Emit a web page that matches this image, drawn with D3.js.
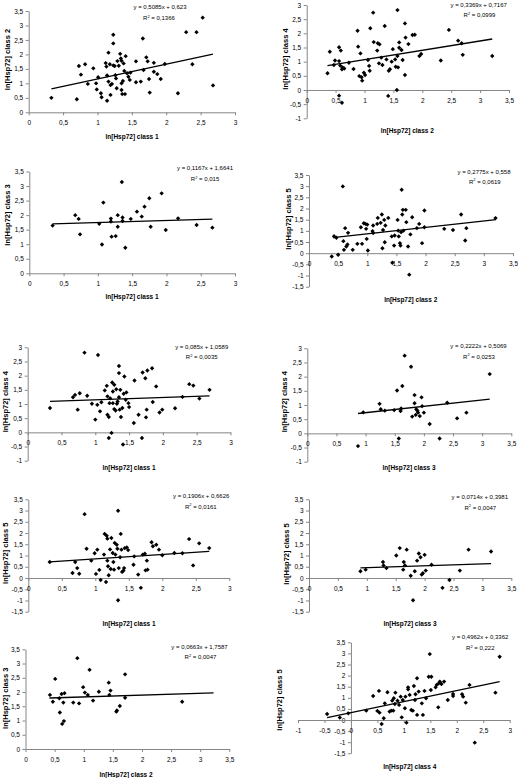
<!DOCTYPE html>
<html><head><meta charset="utf-8">
<script src="https://cdn.jsdelivr.net/npm/d3@7"></script>
<style>body{margin:0;background:#fff}svg{display:block}</style>
</head><body>
<svg id="c" width="518" height="778"></svg>
<script>
// ---- data ----
const p1x=[0.33,0.70,0.73,0.76,0.82,0.86,0.94,0.98,0.99,1.01,1.05,1.06,1.14,1.12,1.13,1.14,1.16,1.16,1.18,1.19,1.19,1.21,1.23,1.23,1.23,1.25,1.26,1.27,1.28,1.29,1.31,1.33,1.34,1.35,1.35,1.35,1.36,1.37,1.38,1.39,1.40,1.41,1.43,1.45,1.47,1.48,1.56,1.56,1.63,1.66,1.67,1.71,1.73,1.75,1.76,1.82,1.82,1.87,1.92,1.98,2.17,2.29,2.38,2.44,2.53,2.68];
const p1y=[0.50,0.45,1.60,1.30,1.66,0.98,1.52,1.00,0.79,1.21,0.66,0.52,0.40,1.70,1.58,1.27,1.06,2.06,1.66,0.60,0.94,0.98,1.62,2.38,2.68,1.60,1.28,1.17,0.83,1.77,1.61,2.02,1.86,1.78,1.00,0.77,0.63,1.08,1.69,1.43,0.63,1.94,1.35,1.23,1.12,1.37,1.76,1.04,1.06,2.55,1.46,1.90,1.76,1.15,0.68,1.71,1.40,1.32,1.15,1.67,0.66,2.77,1.66,2.77,3.27,0.93];

const p2x=[0.36,0.40,0.47,0.49,0.56,0.56,0.58,0.59,0.61,0.62,0.65,0.56,0.61,0.73,0.81,0.88,0.89,0.91,0.93,0.95,0.96,0.99,1.01,1.06,1.08,1.09,1.10,1.15,1.16,1.22,1.23,1.25,1.26,1.29,1.31,1.35,1.38,1.41,1.42,1.44,1.47,1.49,1.53,1.54,1.56,1.57,1.58,1.57,1.60,1.60,1.64,1.66,1.70,1.70,1.71,1.76,1.83,1.87,1.95,1.98,2.46,2.62,2.68,2.70,2.32,3.21];
const p2y=[0.59,1.35,0.88,1.04,1.51,1.02,0.86,1.39,0.73,0.80,0.76,-0.20,-0.45,0.96,0.74,2.09,1.53,0.49,1.29,0.45,0.33,0.61,0.53,1.06,0.85,0.68,2.18,2.73,1.69,1.39,1.65,0.94,1.61,1.14,0.88,2.26,1.08,-0.21,0.68,0.73,1.00,1.44,1.08,0.82,0.00,1.20,0.80,2.82,1.68,1.49,1.41,1.06,0.53,2.35,1.85,1.62,1.94,1.95,1.20,1.27,2.12,1.74,1.65,1.24,1.04,1.20];

const p3x=[0.34,0.67,0.72,0.74,1.02,1.06,1.08,1.19,1.19,1.20,1.26,1.29,1.29,1.35,1.36,1.36,1.40,1.48,1.57,1.64,1.68,1.75,1.77,1.93,1.99,2.17,2.44,2.67];
const p3y=[1.64,2.00,1.87,1.34,1.70,0.99,2.43,1.88,1.78,1.26,1.28,2.00,1.60,3.14,1.92,1.80,0.88,1.87,2.12,1.95,2.29,2.58,1.60,2.75,1.49,1.89,1.66,1.57];

const p4x=[0.39,0.43,0.47,0.50,0.58,0.59,0.60,0.62,0.64,0.66,0.67,0.75,0.83,0.89,0.91,0.94,0.97,0.98,1.00,0.99,1.01,1.09,1.10,1.10,1.17,1.18,1.23,1.25,1.26,1.27,1.29,1.30,1.31,1.36,1.42,1.43,1.46,1.47,1.52,1.53,1.54,1.56,1.57,1.58,1.59,1.60,1.61,1.62,1.66,1.67,1.70,1.72,1.74,1.77,1.85,1.89,1.94,1.98,1.98,2.32,2.47,2.61,2.68,2.70,3.20];
const p4y=[-0.15,0.76,0.69,-0.07,2.99,0.54,0.15,1.12,0.30,0.39,0.91,0.15,0.42,1.16,0.42,1.34,1.31,1.09,1.28,0.64,0.12,0.99,0.90,1.24,1.31,1.58,1.36,1.73,0.22,1.04,1.49,0.49,1.24,1.58,0.75,-0.43,0.34,0.79,1.49,1.01,0.75,0.45,0.34,0.94,2.84,1.73,1.94,1.01,1.94,1.39,0.30,-0.96,0.84,1.61,1.12,1.31,0.45,1.91,1.16,1.09,1.04,1.73,0.57,1.12,1.57];

const p5x=[0.33,0.67,0.70,0.74,0.77,0.84,0.88,0.95,1.00,1.03,1.04,1.07,1.09,1.14,1.17,1.18,1.18,1.20,1.20,1.21,1.22,1.24,1.25,1.26,1.26,1.28,1.28,1.30,1.31,1.32,1.33,1.35,1.35,1.35,1.36,1.37,1.38,1.40,1.41,1.42,1.43,1.45,1.46,1.49,1.50,1.57,1.58,1.64,1.69,1.70,1.74,1.75,1.77,1.76,1.84,1.85,1.90,1.95,1.99,2.18,2.29,2.39,2.45,2.54,2.69];
const p5y=[0.86,1.24,1.32,0.80,1.38,2.81,1.29,1.01,0.45,0.97,2.73,0.74,1.06,1.48,1.64,0.62,1.27,0.54,-0.20,1.03,1.20,-0.02,1.76,1.44,1.03,0.82,1.68,0.77,1.52,1.01,1.09,1.24,2.09,2.34,0.80,1.50,0.54,0.86,-0.43,1.36,1.97,1.15,1.41,1.03,0.89,0.33,1.83,0.62,-0.20,2.11,1.91,0.53,2.18,0.80,2.26,1.07,1.62,0.70,0.80,0.85,1.25,1.70,1.65,1.19,1.50];

const p6x=[0.87,0.96,1.24,1.26,1.33,1.49,1.54,1.57,1.60,1.61,1.63,1.67,1.78,1.80,1.84,1.84,1.86,1.87,1.89,1.90,1.93,1.96,1.97,2.00,2.10,2.27,2.40,2.57,2.73,3.13];
const p6y=[-0.45,0.74,1.04,0.85,0.80,0.82,1.51,-0.18,0.79,0.88,1.67,2.74,2.35,0.59,1.35,1.06,0.65,0.85,0.80,0.73,0.61,1.27,0.96,0.73,0.33,-0.18,1.08,0.53,0.73,2.09];

const p7x=[0.32,0.66,0.70,0.73,0.76,0.84,0.87,0.94,0.99,1.01,1.03,1.06,1.08,1.13,1.14,1.16,1.17,1.18,1.18,1.19,1.20,1.22,1.23,1.24,1.26,1.27,1.28,1.29,1.30,1.32,1.33,1.34,1.34,1.35,1.37,1.38,1.39,1.40,1.42,1.43,1.44,1.47,1.49,1.57,1.58,1.64,1.68,1.71,1.74,1.75,1.77,1.78,1.84,1.86,1.91,1.95,2.00,2.18,2.30,2.40,2.46,2.55,2.70];
const p7y=[0.71,0.22,0.71,0.44,0.19,2.84,1.30,0.77,1.10,0.18,1.26,0.36,-0.09,1.04,1.96,-0.18,1.88,1.75,0.77,0.52,0.12,1.27,0.40,1.78,1.11,0.71,0.37,1.56,1.04,1.48,1.30,2.99,-0.99,0.44,0.92,1.96,1.26,0.27,0.33,0.44,1.33,1.36,1.24,0.59,0.96,0.15,-0.44,1.04,1.08,0.34,0.77,0.37,1.59,1.41,1.48,1.26,1.01,1.11,1.10,1.73,0.56,1.54,1.33];

const p8x=[0.89,0.98,1.28,1.29,1.34,1.51,1.57,1.63,1.64,1.66,1.69,1.76,1.80,1.83,1.87,1.90,1.93,1.95,1.97,2.00,2.02,2.12,2.31,2.43,2.61,2.76,3.15];
const p8y=[0.30,0.37,0.71,0.56,0.44,1.00,1.33,0.37,0.71,0.56,1.26,0.10,-0.99,0.30,0.77,1.09,0.92,0.15,0.21,1.03,0.33,0.59,-0.44,-0.09,0.33,1.26,1.18];

const p9x=[0.42,0.47,0.51,0.58,0.59,0.62,0.63,0.65,0.66,0.67,0.82,0.89,0.92,0.99,1.02,1.07,1.10,1.16,1.26,1.43,1.44,1.46,1.56,1.57,1.62,1.71,1.71,2.69];
const p9y=[1.90,1.66,2.46,1.78,1.28,1.93,0.88,1.63,0.98,1.96,1.63,3.19,1.60,2.17,1.98,1.90,2.78,1.70,2.01,2.33,1.90,2.05,1.31,1.35,1.51,2.62,1.80,1.66];

const p10x=[-0.45,-0.21,-0.05,0.29,0.42,0.50,0.53,0.54,0.58,0.62,0.64,0.69,0.73,0.76,0.78,0.80,0.81,0.83,0.84,0.88,0.91,0.94,0.96,0.98,1.02,1.03,1.05,1.08,1.08,1.11,1.14,1.17,1.19,1.21,1.22,1.25,1.25,1.28,1.34,1.36,1.39,1.42,1.47,1.49,1.51,1.52,1.60,1.62,1.65,1.66,1.68,1.71,1.76,1.83,1.93,1.93,2.10,2.12,2.17,2.24,2.34,2.73,2.81];
const p10y=[0.27,0.11,0.30,0.42,1.08,0.41,1.31,0.33,-0.18,0.08,0.75,1.25,0.38,0.42,0.87,0.42,0.98,0.72,1.23,0.87,0.68,1.05,0.12,0.90,0.53,1.05,-0.12,1.47,1.38,1.13,0.45,0.42,1.53,0.90,1.16,0.23,1.88,1.28,0.75,0.23,1.31,0.98,1.95,2.97,1.35,1.95,1.47,1.58,0.57,1.65,1.73,1.62,1.73,0.90,1.17,1.08,1.16,1.05,0.78,1.58,-1.02,1.23,2.85];

// trendline end points [x1,y1,x2,y2]
const trends=[[0.33,0.81,2.68,2.01],[0.36,0.86,3.21,1.80],[0.34,1.70,2.67,1.86],[0.41,0.70,3.21,1.50],[0.33,1.09,2.69,1.29],[0.87,0.70,3.13,1.21],[0.32,0.72,2.70,1.18],[0.89,0.45,3.15,0.64],[0.41,1.79,3.23,1.97],[-0.45,0.11,2.81,1.73]];

const eqTexts=["y = 0,5085x + 0,623","y = 0,3369x + 0,7167","y = 0,1167x + 1,6641","y = 0,2775x + 0,558","y = 0,085x + 1,0589","y = 0,2222x + 0,5069","y = 0,1906x + 0,6626","y = 0,0714x + 0,3981","y = 0,0663x + 1,7587","y = 0,4962x + 0,3362"];
const r2Texts=["0,1366","0,0999","0,015","0,0619","0,0035","0,0253","0,0161","0,0047","0,0047","0,222"];
const xTitles=["ln[Hsp72] class 1","ln[Hsp72] class 2","ln[Hsp72] class 1","ln[Hsp72] class 2","ln[Hsp72] class 1","ln[Hsp72] class 3","ln[Hsp72] class 1","ln[Hsp72] class 3","ln[Hsp72] class 2","ln[Hsp72] class 4"];
const yTitles=["ln[Hsp72] class 2","ln[Hsp72] class 4","ln[Hsp72] class 3","ln[Hsp72] class 5","ln[Hsp72] class 4","ln[Hsp72] class 4","ln[Hsp72] class 5","ln[Hsp72] class 5","ln[Hsp72] class 3","ln[Hsp72] class 5"];

const ticks0to3=[0,0.5,1,1.5,2,2.5,3];
const ticks0to35=[0,0.5,1,1.5,2,2.5,3,3.5];
const ticksM1to3=[-1,-0.5,0,0.5,1,1.5,2,2.5,3];
const ticksM15to35=[-1.5,-1,-0.5,0,0.5,1,1.5,2,2.5,3,3.5];

// ---- layout (pixel geometry of each panel) ----
const layout=[
 {xr:[28.7,235],yr:[112.3,11],xt:ticks0to3,yt:ticks0to35,eq:[160,7],r2:[159,18],xl:[132,136],yl:[7,59.5]},
 {xr:[306.7,509],yr:[118.3,5],xt:ticks0to35,yt:ticksM1to3,eq:[478.7,5],r2:[479.5,15],xl:[407.3,130],yl:[285.7,59]},
 {xr:[29.3,235],yr:[273.3,171.5],xt:ticks0to3,yt:ticks0to35,eq:[205,168],r2:[205,179],xl:[132,296.7],yl:[7.3,215]},
 {xr:[309,513],yr:[286.7,175],xt:ticks0to35,yt:ticksM15to35,eq:[484,171.7],r2:[484.8,181.7],xl:[410.7,299.3],yl:[288,219]},
 {xr:[27.7,230.5],yr:[460.7,347.3],xt:ticks0to3,yt:ticksM1to3,eq:[201.7,347],r2:[201.7,357.3],xl:[129,467.5],yl:[5,401.7]},
 {xr:[307.3,511.3],yr:[461.7,348.3],xt:ticks0to35,yt:ticksM1to3,eq:[478.5,346],r2:[479,356.7],xl:[409,467.5],yl:[284,401.7]},
 {xr:[28.3,229.3],yr:[611.7,499.3],xt:ticks0to3,yt:ticksM15to35,eq:[201.2,495.7],r2:[200.8,506.7],xl:[129,623.5],yl:[5,553.3]},
 {xr:[309,511.3],yr:[611.7,499.3],xt:ticks0to35,yt:ticksM15to35,eq:[479.8,496.7],r2:[480.3,507.7],xl:[410,623.5],yl:[286.7,554]},
 {xr:[25.5,229.3],yr:[749,649.3],xt:ticks0to35,yt:ticks0to35,eq:[199.5,646.7],r2:[200.5,657.3],xl:[126,774.3],yl:[5,698.3]},
 {xr:[298,509.7],yr:[753.3,642.3],xt:[-1,-0.5,0,0.5,1,1.5,2,2.5,3],yt:ticksM15to35,eq:[480.2,637.3],r2:[480.3,648.3],xl:[409.7,766.7],yl:[279.7,700]}
];
const xs=[p1x,p2x,p3x,p4x,p5x,p6x,p7x,p8x,p9x,p10x];
const ys=[p1y,p2y,p3y,p4y,p5y,p6y,p7y,p8y,p9y,p10y];

const loc=d3.formatLocale({decimal:",",thousands:".",grouping:[3],currency:["",""],minus:"-"});
const fmt=loc.format(".1~f");
const FONT="'Liberation Sans', Arial, sans-serif";
const AX="#868686";
const svg=d3.select("#c");

layout.forEach((L,i)=>{
  const xd=[L.xt[0],L.xt[L.xt.length-1]], yd=[L.yt[0],L.yt[L.yt.length-1]];
  const x=d3.scaleLinear().domain(xd).range(L.xr);
  const y=d3.scaleLinear().domain(yd).range(L.yr);
  const g=svg.append("g");

  // y axis at x=0
  const ya=g.append("g").attr("transform",`translate(${x(0)},0)`)
    .call(d3.axisLeft(y).tickValues(L.yt).tickFormat(fmt).tickSize(3).tickSizeOuter(0).tickPadding(2.5));
  // x axis at y=0
  const xa=g.append("g").attr("transform",`translate(0,${y(0)})`)
    .call(d3.axisBottom(x).tickValues(L.xt).tickFormat(fmt).tickSize(3).tickSizeOuter(0).tickPadding(5.5));
  [ya,xa].forEach(a=>{
    a.select(".domain").attr("stroke",AX).attr("stroke-width",1);
    a.selectAll(".tick line").attr("stroke",AX);
    a.selectAll(".tick text").attr("fill","#000").style("font-family",FONT).style("font-size","6.5px");
  });

  // trendline
  const t=trends[i];
  g.append("line").attr("x1",x(t[0])).attr("y1",y(t[1])).attr("x2",x(t[2])).attr("y2",y(t[3]))
    .attr("stroke","#000").attr("stroke-width",1.3);

  // points
  const pts=xs[i].map((v,k)=>[v,ys[i][k]]);
  g.selectAll("path.pt").data(pts).enter().append("path").attr("class","pt")
    .attr("d",d3.symbol(d3.symbolSquare,9.5)())
    .attr("transform",d=>`translate(${x(d[0])},${y(d[1])}) rotate(45)`)
    .attr("fill","#000");

  // equation + R2
  g.append("text").attr("x",L.eq[0]).attr("y",L.eq[1]).attr("text-anchor","middle")
    .attr("dominant-baseline","central").style("font-family",FONT).style("font-size","6px").text(eqTexts[i]);
  const r=g.append("text").attr("x",L.r2[0]).attr("y",L.r2[1]).attr("text-anchor","middle")
    .attr("dominant-baseline","central").style("font-family",FONT).style("font-size","6px");
  r.append("tspan").text("R");
  r.append("tspan").attr("dy",-2.3).style("font-size","4px").text("2");
  r.append("tspan").attr("dy",2.3).text(" = "+r2Texts[i]);

  // axis titles
  g.append("text").attr("x",L.xl[0]).attr("y",L.xl[1]).attr("text-anchor","middle")
    .attr("dominant-baseline","central").style("font-family",FONT).style("font-size","6.5px")
    .style("font-weight","bold").text(xTitles[i]);
  g.append("text").attr("transform",`translate(${L.yl[0]},${L.yl[1]}) rotate(-90)`).attr("text-anchor","middle")
    .attr("dominant-baseline","central").style("font-family",FONT).style("font-size","7.5px")
    .style("font-weight","bold").text(yTitles[i]);
});
</script>
</body></html>
